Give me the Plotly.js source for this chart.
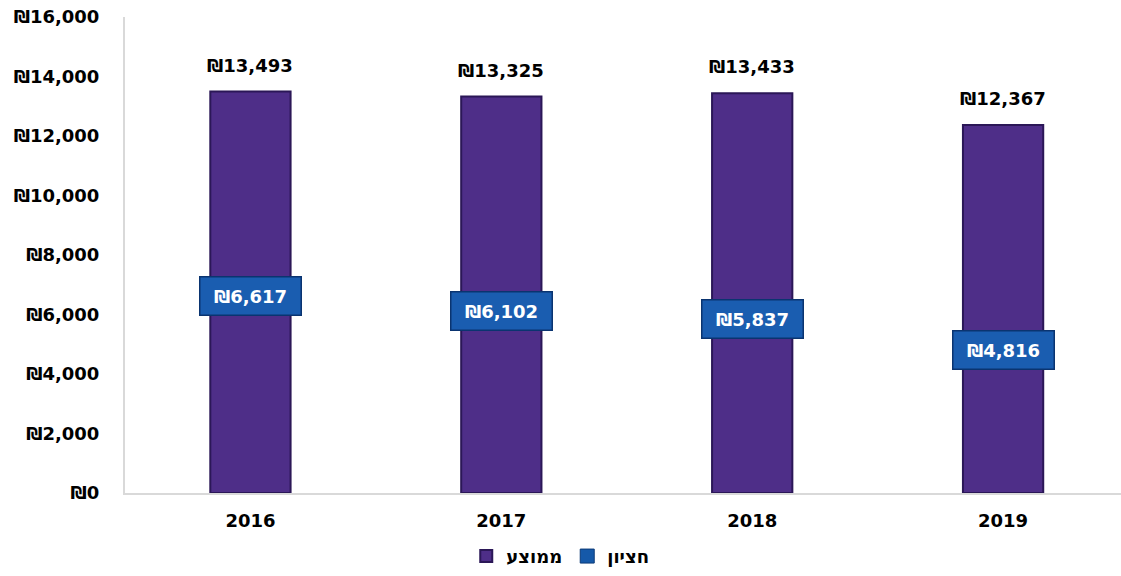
<!DOCTYPE html>
<html>
<head>
<meta charset="utf-8">
<script src="https://cdn.plot.ly/plotly-3.0.1.min.js"></script>
<style>
  html, body { margin: 0; padding: 0; background: #fff; }
  #graph { width: 1121px; height: 576px; }
</style>
</head>
<body>
<div id="graph"></div>
<script>
// chart data
var years = ['2016', '2017', '2018', '2019'];
var averageValues = [13493, 13325, 13433, 12367];
var medianValues = [6617, 6102, 5837, 4816];
var averageName = 'ממוצע';
var medianName = 'חציון';

var FONT = '"DejaVu Sans", "Open Sans", sans-serif';

function shekel(v) {
  return '₪' + v.toLocaleString('en-US');
}

// average bars
var avgTrace = {
  type: 'bar',
  x: years,
  y: averageValues,
  name: averageName,
  width: 0.32,
  marker: {
    color: '#4e2e88',
    line: { color: '#2b1757', width: 2 }
  },
  hoverinfo: 'skip'
};

// median points (boxes drawn as annotations on top)
var medTrace = {
  type: 'scatter',
  mode: 'markers',
  x: years,
  y: medianValues,
  name: medianName,
  marker: {
    symbol: 'square',
    size: 14,
    color: '#1559a9',
    line: { color: '#0b3a78', width: 1 }
  },
  hoverinfo: 'skip'
};

var annotations = [];
years.forEach(function (yr, i) {
  // value above bar
  annotations.push({
    x: i, y: averageValues[i], xref: 'x', yref: 'y',
    text: '<b>' + shekel(averageValues[i]) + '</b>',
    showarrow: false, yanchor: 'bottom', yshift: 14,
    font: { family: FONT, size: 18, color: '#000' }
  });
  // median box
  annotations.push({
    x: i, y: medianValues[i], xref: 'x', yref: 'y',
    text: '<b>' + shekel(medianValues[i]) + '</b>',
    showarrow: false, xanchor: 'center', yanchor: 'middle',
    width: 96, height: 33, borderpad: 2, borderwidth: 1.5,
    bgcolor: '#1a5db0', bordercolor: '#0a3470',
    font: { family: FONT, size: 18, color: '#fff' }
  });
});

var layout = {
  width: 1121,
  height: 576,
  margin: { l: 125, r: 0, t: 17, b: 83 },
  paper_bgcolor: '#fff',
  plot_bgcolor: '#fff',
  showlegend: true,
  legend: {
    orientation: 'h',
    x: 0.437, xanchor: 'center',
    y: -0.172, yanchor: 'bottom',
    font: { family: FONT, size: 18, color: '#000', weight: 'bold' },
    itemwidth: 30
  },
  xaxis: {
    type: 'category',
    range: [-0.5, 3.47],
    showline: true, linecolor: '#d9d9d9', linewidth: 2,
    ticks: '', showgrid: false, zeroline: false,
    ticklabelstandoff: 10,
    tickfont: { family: FONT, size: 18, color: '#000', weight: 'bold' }
  },
  yaxis: {
    range: [0, 16000],
    dtick: 2000,
    tickprefix: '₪',
    tickformat: ',d',
    showline: true, linecolor: '#d9d9d9', linewidth: 2,
    ticks: '', showgrid: false, zeroline: false,
    ticklabelstandoff: 20,
    tickfont: { family: FONT, size: 18, color: '#000', weight: 'bold' }
  },
  annotations: annotations
};

Plotly.newPlot('graph', [avgTrace, medTrace], layout, { displayModeBar: false, staticPlot: true });
</script>
</body>
</html>
